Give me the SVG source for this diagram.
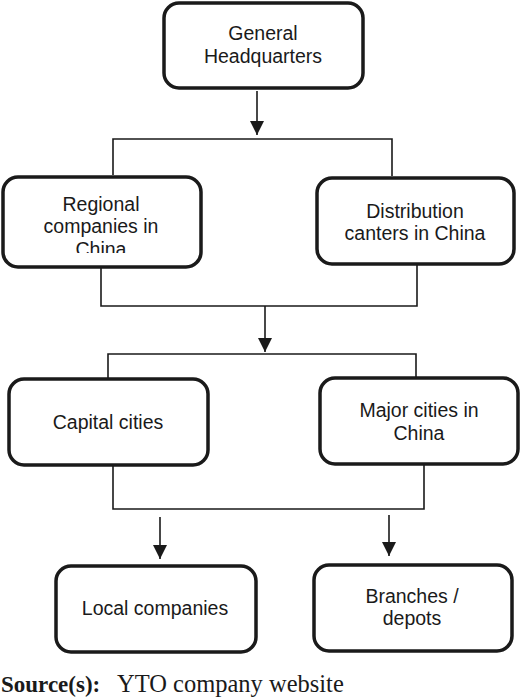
<svg xmlns="http://www.w3.org/2000/svg" width="520" height="700" viewBox="0 0 520 700">
<style>
.box{fill:#fff;stroke:#1a1a1a;stroke-width:3.5}
.lbl{font-family:"Liberation Sans",Arial,sans-serif;font-size:19.5px;fill:#1a1a1a;text-anchor:middle}
.con{fill:none;stroke:#1a1a1a;stroke-width:1.6}
.src{font-family:"Liberation Serif","Times New Roman",serif;font-size:24.5px;fill:#1a1a1a}
</style>
<defs>
<marker id="arr" markerUnits="userSpaceOnUse" markerWidth="14" markerHeight="14" viewBox="0 0 12 12" refX="12" refY="6" orient="auto">
<path d="M0,0 L12,6 L0,12 Z" fill="#1a1a1a"/>
</marker>
<clipPath id="clipReg"><rect x="0" y="170" width="210" height="83"/></clipPath>
</defs>
<rect width="520" height="700" fill="#fff"/>
<g id="connectors">
<line class="con" x1="257" y1="91" x2="257" y2="135" marker-end="url(#arr)"/>
<path class="con" d="M113,175 V139 H392 V176"/>
<path class="con" d="M101,268 V306 H417 V265"/>
<line class="con" x1="265" y1="306" x2="265" y2="352" marker-end="url(#arr)"/>
<path class="con" d="M108,380 V354 H416 V379"/>
<path class="con" d="M113,466 V509 H424 V465"/>
<line class="con" x1="160" y1="517" x2="160" y2="559" marker-end="url(#arr)"/>
<line class="con" x1="389" y1="515" x2="389" y2="556" marker-end="url(#arr)"/>
</g>
<g id="hq">
<rect class="box" x="164" y="3" width="199" height="85" rx="15"/>
<text class="lbl" x="263" y="40">General</text>
<text class="lbl" x="263" y="63">Headquarters</text>
</g>
<g id="regional">
<rect class="box" x="3" y="177" width="198" height="90" rx="15"/>
<g clip-path="url(#clipReg)">
<text class="lbl" x="101" y="211">Regional</text>
<text class="lbl" x="101" y="233">companies in</text>
<text class="lbl" x="101" y="256">China</text>
</g>
</g>
<g id="distribution">
<rect class="box" x="317" y="178" width="197" height="86" rx="15"/>
<text class="lbl" x="415" y="218">Distribution</text>
<text class="lbl" x="415" y="240">canters in China</text>
</g>
<g id="capital">
<rect class="box" x="9" y="379" width="199" height="86" rx="15"/>
<text class="lbl" x="108" y="429">Capital cities</text>
</g>
<g id="major">
<rect class="box" x="320" y="378" width="198" height="86" rx="15"/>
<text class="lbl" x="419" y="417">Major cities in</text>
<text class="lbl" x="419" y="440">China</text>
</g>
<g id="local">
<rect class="box" x="56" y="566" width="200" height="86" rx="15"/>
<text class="lbl" x="155" y="615">Local companies</text>
</g>
<g id="branches">
<rect class="box" x="314" y="565" width="198" height="86" rx="15"/>
<text class="lbl" x="412" y="603">Branches /</text>
<text class="lbl" x="412" y="625">depots</text>
</g>
<text class="src" x="1" y="692"><tspan font-weight="bold" font-size="23px">Source(s):</tspan><tspan x="117">YTO company website</tspan></text>
</svg>
